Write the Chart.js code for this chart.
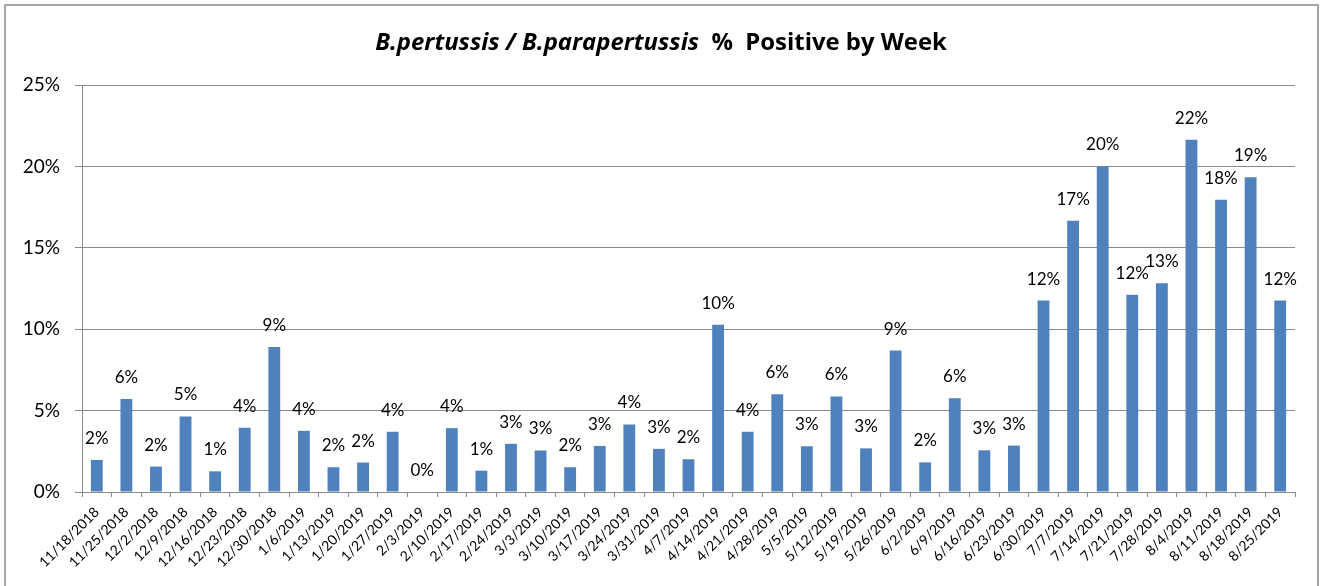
<!DOCTYPE html>
<html>
<head>
<meta charset="utf-8">
<script src="https://cdn.jsdelivr.net/npm/chart.js@4.4.1/dist/chart.umd.min.js"></script>
<style>
    html, body { margin: 0; padding: 0; background: #fff; overflow: hidden; }
    #wrap { position: relative; width: 1320px; height: 586px; }
    #frame {
        position: absolute; left: 4px; top: 4px; width: 1311px; height: 620px;
        border: 2px solid #a6a6a6; pointer-events: none;
    }
</style>
</head>
<body>
<div id="wrap">
    <canvas id="grafico" width="1320" height="586"></canvas>
    <div id="frame"></div>
</div>
<script>
const semanas = [
    '11/18/2018', '11/25/2018', '12/2/2018', '12/9/2018', '12/16/2018', '12/23/2018', '12/30/2018',
    '1/6/2019', '1/13/2019', '1/20/2019', '1/27/2019', '2/3/2019', '2/10/2019', '2/17/2019',
    '2/24/2019', '3/3/2019', '3/10/2019', '3/17/2019', '3/24/2019', '3/31/2019', '4/7/2019',
    '4/14/2019', '4/21/2019', '4/28/2019', '5/5/2019', '5/12/2019', '5/19/2019', '5/26/2019',
    '6/2/2019', '6/9/2019', '6/16/2019', '6/23/2019', '6/30/2019', '7/7/2019', '7/14/2019',
    '7/21/2019', '7/28/2019', '8/4/2019', '8/11/2019', '8/18/2019', '8/25/2019'
];

// % positive
const positivos = [
    1.97, 5.71, 1.56, 4.64, 1.27, 3.94, 8.91,
    3.76, 1.52, 1.81, 3.70, 0, 3.92, 1.31,
    2.96, 2.55, 1.52, 2.83, 4.15, 2.65, 2.01,
    10.27, 3.70, 6.00, 2.81, 5.87, 2.68, 8.69,
    1.82, 5.76, 2.56, 2.85, 11.76, 16.66, 20.0,
    12.11, 12.83, 21.64, 17.95, 19.34, 11.76
];

const eixoY = [0, 5, 10, 15, 20, 25];

const titulo = ['B.pertussis / B.parapertussis', '  %  Positive by Week'];

const cinza = '#8a8a8a';
const fonte = 'Lato, "Open Sans", sans-serif';
const fonteTitulo = '"Open Sans", Lato, sans-serif';

// title with italic + regular bold parts, sized to the original width
const tituloPlugin = {
    id: 'tituloMisto',
    afterDraw(chart) {
        const c = chart.ctx;
        c.save();
        c.fillStyle = '#000';
        c.textBaseline = 'alphabetic';
        c.textAlign = 'left';
        const medir = (px) => {
            c.font = 'italic bold ' + px + 'px ' + fonteTitulo;
            const a = c.measureText(titulo[0]).width;
            c.font = 'bold ' + px + 'px ' + fonteTitulo;
            const b = c.measureText(titulo[1]).width;
            return [a, b];
        };
        let [a, b] = medir(20);
        const tam = Math.min(24, 20 * 572 / (a + b));
        [a, b] = medir(tam);
        const x = 661 - (a + b) / 2;
        const y = 50;
        c.font = 'italic bold ' + tam + 'px ' + fonteTitulo;
        c.fillText(titulo[0], x, y);
        c.font = 'bold ' + tam + 'px ' + fonteTitulo;
        c.fillText(titulo[1], x + a, y);
        c.restore();
    }
};

// value labels above each bar
const rotulosPlugin = {
    id: 'rotulos',
    afterDatasetsDraw(chart) {
        const c = chart.ctx;
        const meta = chart.getDatasetMeta(0);
        c.save();
        c.font = '17px ' + fonte;
        c.fillStyle = '#000';
        c.textAlign = 'center';
        c.textBaseline = 'alphabetic';
        meta.data.forEach((bar, i) => {
            const txt = Math.round(positivos[i]) + '%';
            c.fillText(txt, bar.x, bar.y - 16);
        });
        c.restore();
    }
};

document.addEventListener('DOMContentLoaded', () => {
    const ctx = document.getElementById('grafico').getContext('2d');

    new Chart(ctx, {
        type: 'bar',
        data: {
            labels: semanas,
            datasets: [{
                label: '% Positive',
                data: positivos,
                backgroundColor: '#4f81bd',
                barPercentage: 0.4,
                categoryPercentage: 1.0
            }]
        },
        options: {
            responsive: false,
            animation: false,
            layout: { padding: { top: 85, right: 25, left: 0, bottom: 0 } },
            plugins: {
                legend: { display: false },
                title: { display: false },
                tooltip: { enabled: false }
            },
            scales: {
                x: {
                    grid: {
                        offset: true,
                        drawOnChartArea: false,
                        drawTicks: true,
                        tickLength: 5,
                        color: cinza
                    },
                    border: { color: cinza, width: 1 },
                    ticks: {
                        autoSkip: false,
                        maxRotation: 45,
                        minRotation: 45,
                        padding: 7,
                        color: '#000',
                        font: { family: fonte, size: 14 }
                    },
                    afterFit(scale) { scale.height = 94; }
                },
                y: {
                    min: 0,
                    max: 25,
                    afterBuildTicks(scale) {
                        scale.ticks = eixoY.map(v => ({ value: v }));
                    },
                    grid: {
                        color: cinza,
                        tickLength: 7
                    },
                    border: { color: cinza, width: 1 },
                    ticks: {
                        padding: 15,
                        color: '#000',
                        font: { family: fonte, size: 19 },
                        callback: v => v + '%'
                    },
                    afterFit(scale) { scale.width = 82; }
                }
            }
        },
        plugins: [tituloPlugin, rotulosPlugin]
    });
});
</script>
</body>
</html>
